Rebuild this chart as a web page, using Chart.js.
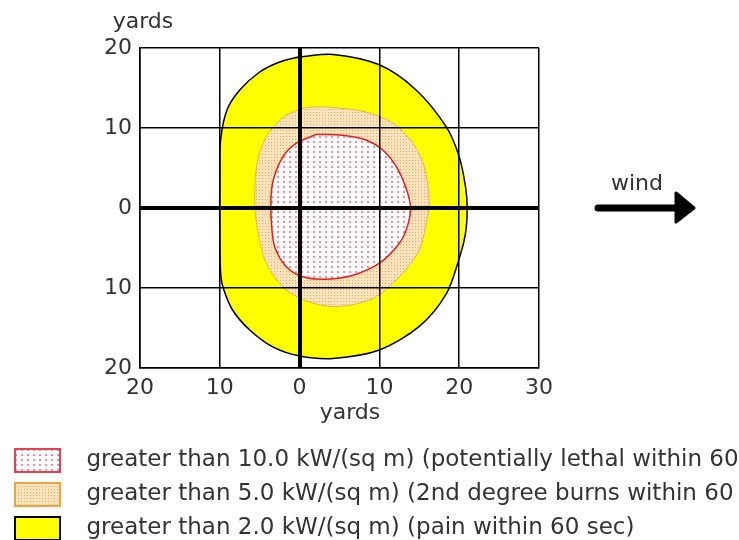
<!DOCTYPE html>
<html><head><meta charset="utf-8">
<script src="https://cdn.jsdelivr.net/npm/chart.js@4/dist/chart.umd.min.js"></script>
<style>html,body{margin:0;padding:0;background:#fff;}canvas{display:block;}</style>
</head><body>
<canvas id="c" width="739" height="540"></canvas>
<script>
// ---- data (yards) ----
const seriesLabels = [
  'greater than 10.0 kW/(sq m) (potentially lethal within 60',
  'greater than 5.0 kW/(sq m) (2nd degree burns within 60',
  'greater than 2.0 kW/(sq m) (pain within 60 sec)'
];
const xTicks = [-20, -10, 0, 10, 20, 30];
const yTicks = [-20, -10, 0, 10, 20];
const axisTitle = 'yards';
const windLabel = 'wind';

// 10 kW/m2 threat zone contour
const lethalX = [2.1, 5.4, 8.3, 10.4, 12.1, 13.3, 13.9, 13.5, 12.5, 10.0, 6.7, 3.3, 0.4, -1.7, -3.1, -3.5, -3.6, -3.3, -2.1, -0.4];
const lethalY = [9.2, 9.1, 8.5, 7.25, 5.2, 2.6, 0.1, -2.3, -4.4, -6.9, -8.4, -8.9, -8.6, -7.3, -4.9, -2.3, 1.0, 3.5, 6.4, 8.1];
// 5 kW/m2 threat zone contour
const burnsX = [0.9, 3.75, 8.3, 11.7, 14.2, 15.6, 16.25, 16.0, 15.0, 12.5, 9.2, 5.0, 1.7, -1.7, -4.2, -5.2, -5.6, -5.4, -4.2, -1.7];
const burnsY = [12.6, 12.6, 12.0, 10.6, 8.1, 5.2, 1.0, -1.1, -5.25, -8.6, -11.3, -12.3, -11.9, -10.25, -6.9, -3.1, 0.0, 5.2, 8.9, 11.6];
// 2 kW/m2 threat zone contour
const painX = [0.0, 4.2, 10.0, 14.6, 18.4, 20.0, 20.8, 21.0, 20.8, 20.0, 18.4, 15.0, 10.0, 4.2, 0.0, -3.3, -6.25, -8.4, -9.6, -9.9, -10.0, -10.0, -9.9, -9.1, -7.5, -5.0, -2.5];
const painY = [18.9, 19.2, 17.9, 14.75, 10.1, 6.4, 2.6, 0.0, -3.1, -6.3, -10.7, -14.8, -17.75, -18.8, -18.5, -17.4, -15.25, -12.75, -9.9, -8.1, -4.0, 4.0, 8.5, 12.25, 14.75, 17.0, 18.25];

// ---- styling helpers ----
function makePattern(w, h, bg, dot, dw, dh) {
  const c = document.createElement('canvas');
  c.width = w; c.height = h;
  const g = c.getContext('2d');
  g.fillStyle = bg; g.fillRect(0, 0, w, h);
  g.fillStyle = dot; g.fillRect(1, 1, dw, dh);
  return document.createElement('canvas').getContext('2d').createPattern(c, 'repeat');
}
const lethalFill = makePattern(6, 5, '#ffffff', 'rgba(222,70,100,0.6)', 2, 2);
const burnsFill = makePattern(3, 3, '#fbe3be', '#eeac5a', 1, 1);
const painFill = '#ffff00';

function swatch(fill, stroke, lw) {
  const c = document.createElement('canvas');
  c.width = 58; c.height = 25;
  const g = c.getContext('2d');
  g.fillStyle = fill; g.fillRect(0, 0, 47, 25);
  g.strokeStyle = stroke; g.lineWidth = lw;
  g.strokeRect(lw / 2, lw / 2, 47 - lw, 25 - lw);
  return c;
}

function pts(xs, ys) {
  const p = xs.map((x, i) => ({x, y: ys[i]}));
  p.push({x: xs[0], y: ys[0]});
  return p;
}

Chart.defaults.font.family = '"DejaVu Sans", Verdana, sans-serif';
Chart.defaults.font.size = 22;
Chart.defaults.color = '#333';

const annotate = {
  id: 'annotate',
  afterDraw(chart) {
    const {ctx, chartArea: a, scales: {y}} = chart;
    ctx.save();
    ctx.fillStyle = '#333';
    ctx.font = '22px "DejaVu Sans"';
    ctx.textAlign = 'center';
    ctx.textBaseline = 'alphabetic';
    ctx.fillText(axisTitle, a.left + 3, a.top - 20);
    ctx.fillText(axisTitle, a.left + 210, a.bottom + 51);
    const y0 = y.getPixelForValue(0);
    ctx.fillText(windLabel, a.right + 98, y0 - 18);
    ctx.strokeStyle = '#000'; ctx.lineWidth = 7; ctx.lineCap = 'round';
    ctx.beginPath(); ctx.moveTo(a.right + 59, y0); ctx.lineTo(a.right + 140, y0); ctx.stroke();
    ctx.fillStyle = '#000'; ctx.lineJoin = 'round'; ctx.lineWidth = 3;
    ctx.beginPath();
    ctx.moveTo(a.right + 137, y0 - 15);
    ctx.lineTo(a.right + 155, y0);
    ctx.lineTo(a.right + 137, y0 + 14);
    ctx.closePath(); ctx.fill(); ctx.stroke();
    ctx.restore();
  }
};

const gridStyle = {
  color: '#000',
  lineWidth: c => (c.tick && c.tick.value === 0 ? 4 : 1.5),
  drawTicks: false,
  z: 1
};

new Chart(document.getElementById('c'), {
  type: 'scatter',
  data: {
    datasets: [
      {label: seriesLabels[0], data: pts(lethalX, lethalY), showLine: true, fill: 'shape',
       backgroundColor: lethalFill, borderColor: '#e41c1c', borderWidth: 1.5, pointRadius: 0, tension: 0.3,
       pointStyle: swatch(lethalFill, '#e44050', 2)},
      {label: seriesLabels[1], data: pts(burnsX, burnsY), showLine: true, fill: 'shape',
       backgroundColor: burnsFill, borderColor: '#f2b04a', borderWidth: 1, pointRadius: 0, tension: 0.3,
       pointStyle: swatch(burnsFill, '#eaa640', 2)},
      {label: seriesLabels[2], data: pts(painX, painY), showLine: true, fill: 'shape',
       backgroundColor: painFill, borderColor: '#000', borderWidth: 1.5, pointRadius: 0, tension: 0.3,
       pointStyle: swatch(painFill, '#000', 2)}
    ]
  },
  options: {
    responsive: false,
    animation: false,
    layout: {padding: {left: 0, top: 48, right: 0, bottom: -10}},
    scales: {
      x: {
        type: 'linear', min: -20, max: 30,
        afterBuildTicks: s => { s.ticks = xTicks.map(v => ({value: v})); },
        afterFit: s => { s.height = 70; },
        ticks: {padding: 7, maxRotation: 0, autoSkip: false, callback: v => String(Math.abs(v))},
        grid: gridStyle,
        border: {color: '#000', width: 1.5, z: 1}
      },
      y: {
        type: 'linear', min: -20, max: 20,
        afterBuildTicks: s => { s.ticks = yTicks.map(v => ({value: v})); },
        afterFit: s => { s.width = 140; },
        ticks: {padding: 8, autoSkip: false, callback: v => String(Math.abs(v))},
        grid: gridStyle,
        border: {color: '#000', width: 1.5, z: 1}
      },
      side: {
        type: 'linear', position: 'right', min: -20, max: 20,
        afterFit: s => { s.width = 200; },
        ticks: {display: false},
        grid: {display: false},
        border: {display: false}
      }
    },
    plugins: {
      tooltip: {enabled: false},
      legend: {
        position: 'bottom', align: 'start',
        labels: {usePointStyle: true, pointStyleWidth: 64, padding: 11, color: '#333',
                 font: {size: 23}}
      }
    }
  },
  plugins: [annotate]
});
</script>
</body></html>
